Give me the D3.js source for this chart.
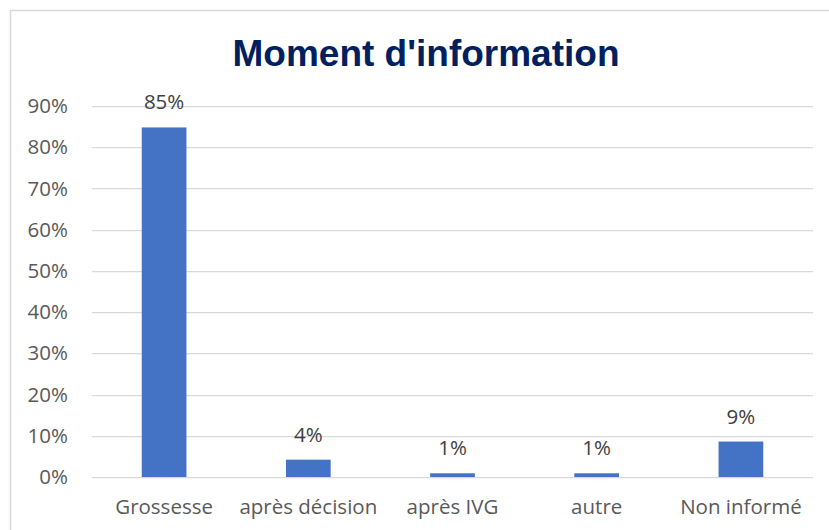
<!DOCTYPE html>
<html lang="fr">
<head>
    <meta charset="UTF-8">
    <title>Moment d'information</title>
    <script src="https://d3js.org/d3.v7.min.js"></script>
    <style>
        body {
            margin: 0;
            padding: 0;
            background: #fff;
        }
        svg text {
            font-family: "Open Sans", sans-serif;
        }
    </style>
</head>
<body>
    <svg id="chart" width="829" height="530"></svg>

    <script>
        const categories = ['Grossesse', 'après décision', 'après IVG', 'autre', 'Non informé'];
        const values = [0.848, 0.042, 0.009, 0.009, 0.086];
        const labels = ['85%', '4%', '1%', '1%', '9%'];
        const yTicks = [0, 0.1, 0.2, 0.3, 0.4, 0.5, 0.6, 0.7, 0.8, 0.9];

        const width = 829;
        const height = 530;
        const margin = {top: 106, right: 16, bottom: 53, left: 92};
        const fontSize = '20.5px';

        const svg = d3.select('#chart');

        // chart frame
        svg.append('rect')
            .attr('x', 10.5)
            .attr('y', 10.5)
            .attr('width', width + 20)
            .attr('height', height + 20)
            .attr('fill', '#fff')
            .attr('stroke', '#d9d9d9')
            .attr('stroke-width', 1.5);

        svg.append('text')
            .attr('x', 426)
            .attr('y', 66)
            .attr('text-anchor', 'middle')
            .style('font-family', 'Arial, "Liberation Sans", sans-serif')
            .style('font-weight', 'bold')
            .style('font-size', '37px')
            .attr('fill', '#002060')
            .text("Moment d'information");

        const x = d3.scaleBand()
            .domain(categories)
            .range([margin.left, width - margin.right])
            .paddingInner(0.69)
            .paddingOuter(0.345);

        const y = d3.scaleLinear()
            .domain([0, 0.9])
            .range([height - margin.bottom, margin.top]);

        // gridlines
        svg.append('g')
            .selectAll('line')
            .data(yTicks)
            .enter()
            .append('line')
            .attr('x1', margin.left)
            .attr('x2', width - margin.right)
            .attr('y1', d => Math.round(y(d)) + 0.5)
            .attr('y2', d => Math.round(y(d)) + 0.5)
            .attr('stroke', '#d9d9d9')
            .attr('stroke-width', 1.25);

        // y axis labels
        const yAxis = d3.axisLeft(y)
            .tickValues(yTicks)
            .tickFormat(d3.format('.0%'))
            .tickSize(0)
            .tickPadding(24);

        svg.append('g')
            .attr('transform', `translate(${margin.left},0)`)
            .call(yAxis)
            .call(g => g.select('.domain').remove())
            .call(g => g.selectAll('text')
                .style('font-size', fontSize)
                .attr('fill', '#595959'));

        // x axis labels
        const xAxis = d3.axisBottom(x).tickSize(0).tickPadding(22);
        svg.append('g')
            .attr('transform', `translate(0,${height - margin.bottom})`)
            .call(xAxis)
            .call(g => g.select('.domain').remove())
            .call(g => g.selectAll('text')
                .style('font-size', fontSize)
                .attr('fill', '#595959'));

        // bars
        svg.append('g')
            .selectAll('rect')
            .data(values)
            .enter()
            .append('rect')
            .attr('x', (d, i) => x(categories[i]))
            .attr('y', d => y(d))
            .attr('width', x.bandwidth())
            .attr('height', d => y(0) - y(d))
            .attr('fill', '#4472c4');

        // data labels
        svg.append('g')
            .selectAll('text')
            .data(values)
            .enter()
            .append('text')
            .attr('x', (d, i) => x(categories[i]) + x.bandwidth() / 2)
            .attr('y', d => y(d) - 18)
            .attr('text-anchor', 'middle')
            .style('font-size', fontSize)
            .attr('fill', '#404040')
            .text((d, i) => labels[i]);
    </script>
</body>
</html>
